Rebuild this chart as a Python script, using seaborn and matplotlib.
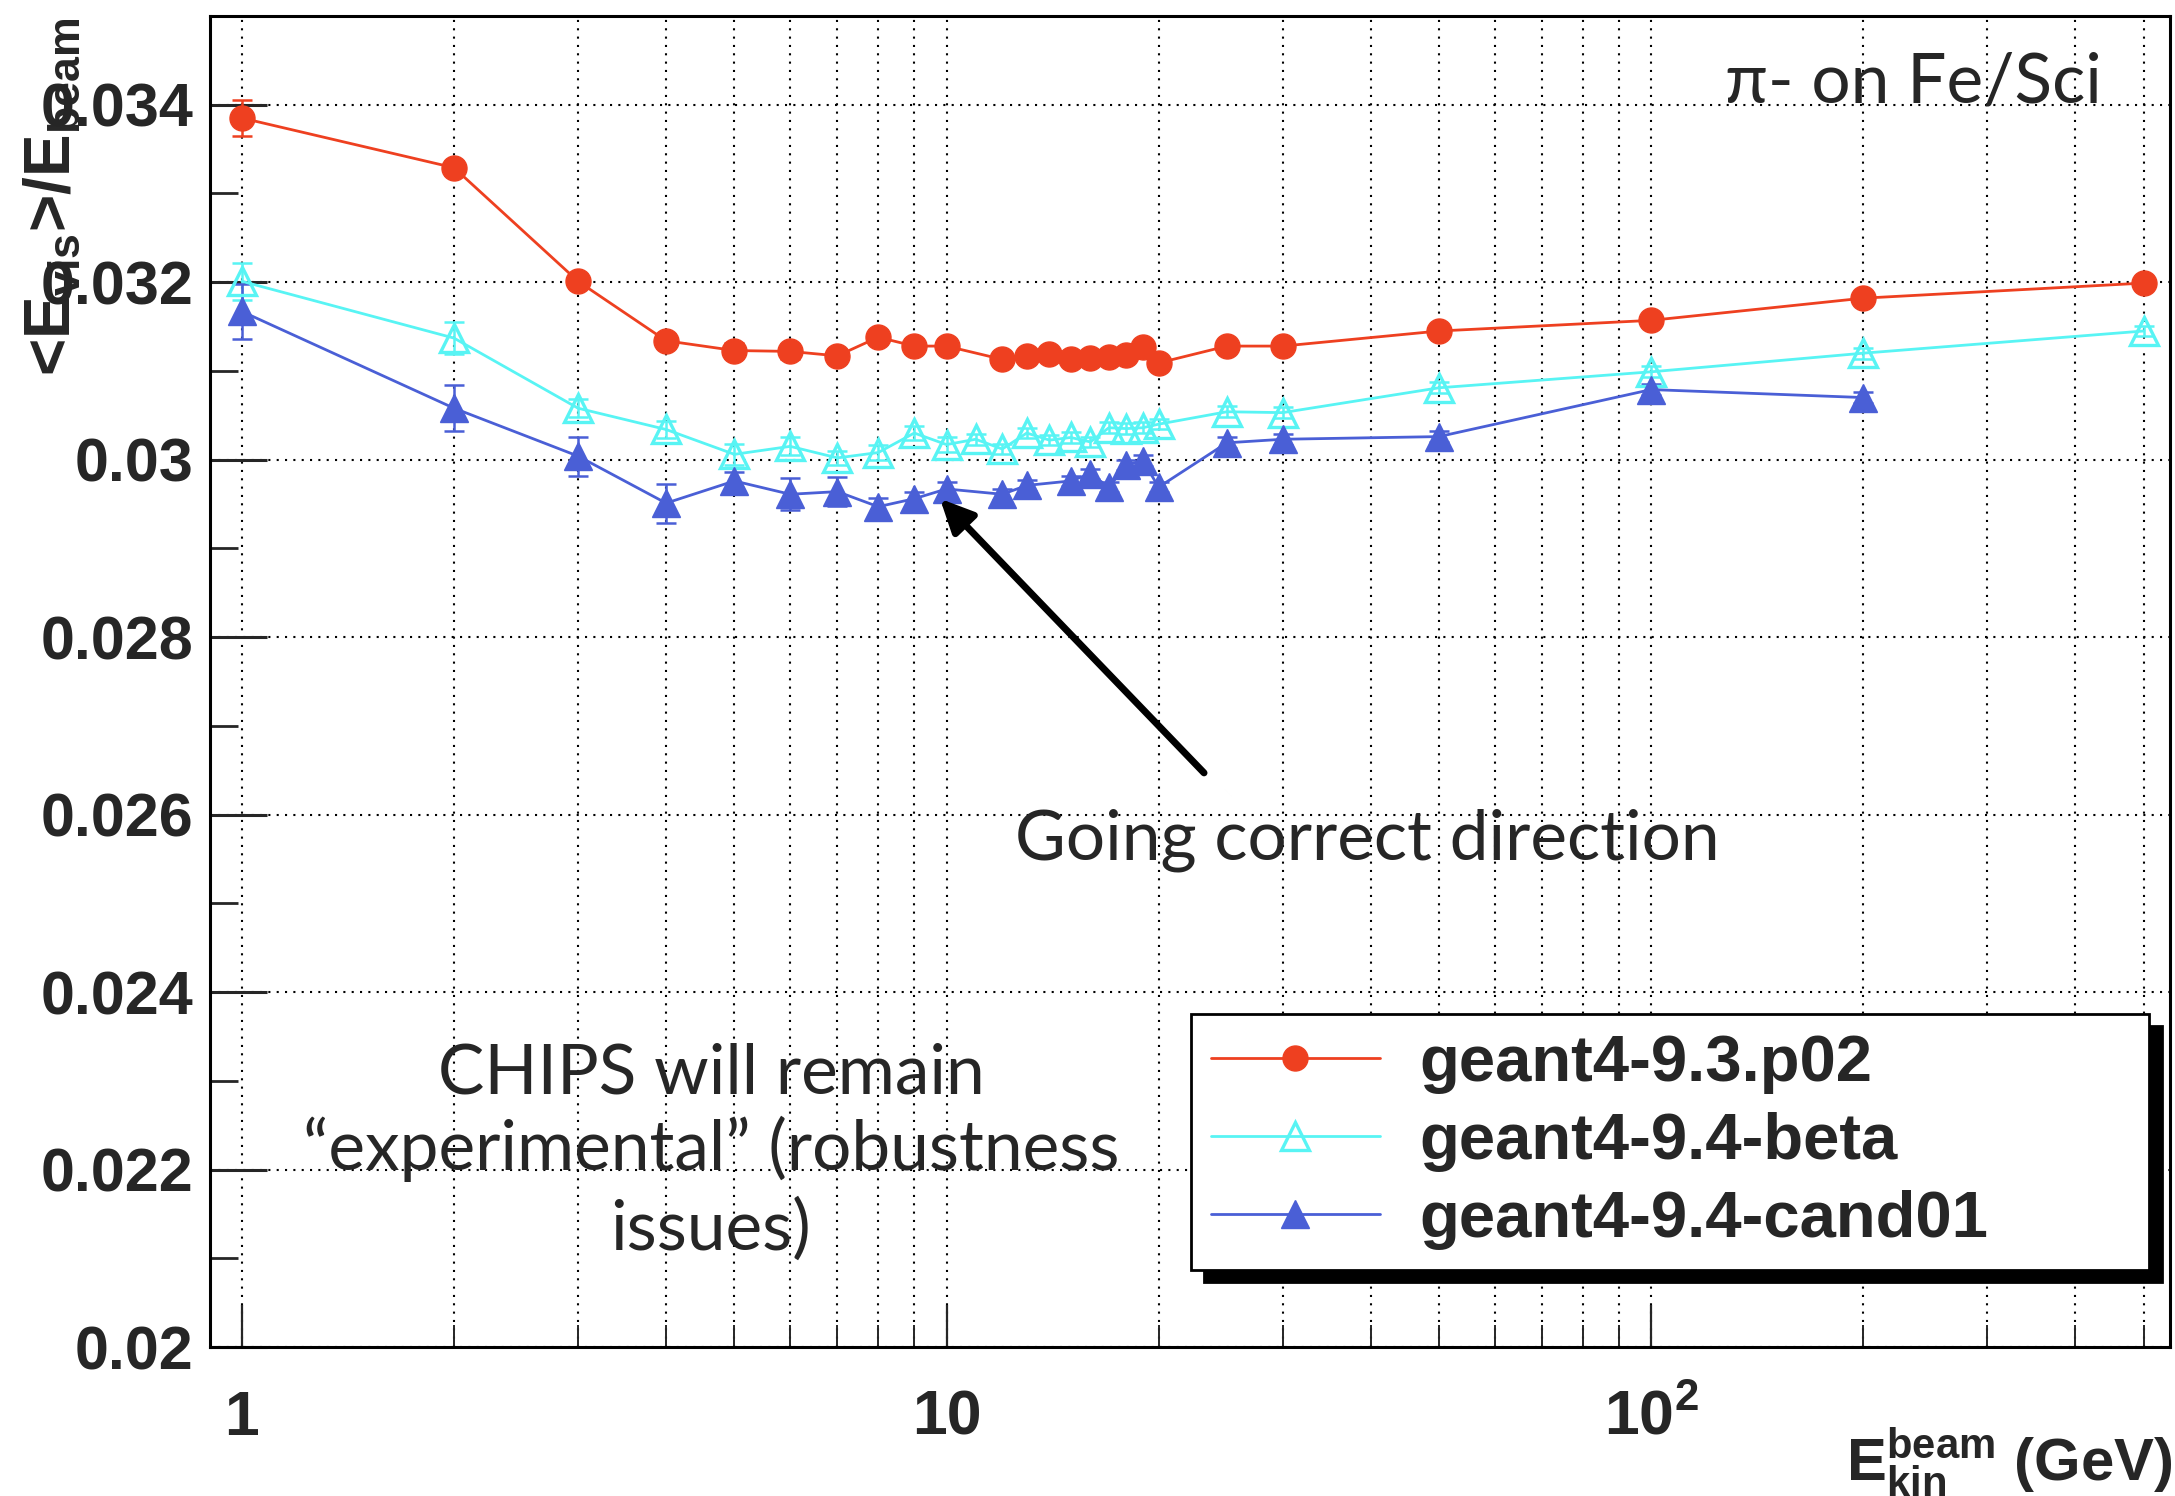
import numpy as np
import pandas as pd
import matplotlib
matplotlib.use("Agg")
import matplotlib.pyplot as plt
from matplotlib.ticker import FixedLocator, MultipleLocator, NullFormatter, LogLocator
import seaborn as sns

# ---------------- data ----------------
E_p02 = [1, 2, 3, 4, 5, 6, 7, 8, 9, 10, 12, 13, 14, 15, 16, 17, 18, 19, 20, 25, 30, 50, 100, 200, 500]
v_p02 = [0.03385, 0.03329, 0.03201, 0.03134, 0.03123, 0.03122, 0.03117, 0.03138, 0.03128, 0.03128,
         0.03113, 0.03117, 0.03119, 0.03113, 0.03115, 0.03116, 0.03118, 0.03127, 0.03109,
         0.03128, 0.03128, 0.03145, 0.03157, 0.03182, 0.03199]
e_p02 = [0.00020, 0.00008, 0.00008, 0.00008, 0.00008, 0.00008, 0.00008, 0.00008, 0.00008, 0.00008,
         0.00006, 0.00006, 0.00006, 0.00006, 0.00006, 0.00006, 0.00006, 0.00006, 0.00006,
         0.00006, 0.00006, 0.00006, 0.00006, 0.00006, 0.00006]

E_beta = [1, 2, 3, 4, 5, 6, 7, 8, 9, 10, 11, 12, 13, 14, 15, 16, 17, 18, 19, 20, 25, 30, 50, 100, 200, 500]
v_beta = [0.03201, 0.03137, 0.03058, 0.03034, 0.03006, 0.03015, 0.03002, 0.03008, 0.03030, 0.03017,
          0.03023, 0.03012, 0.03030, 0.03022, 0.03025, 0.03020, 0.03036, 0.03035, 0.03036, 0.03040,
          0.03054, 0.03053, 0.03081, 0.03099, 0.03120, 0.03145]
e_beta = [0.00021, 0.00018, 0.00010, 0.00010, 0.00012, 0.00010, 0.00008, 0.00008, 0.00008, 0.00008,
          0.00006, 0.00006, 0.00006, 0.00006, 0.00006, 0.00006, 0.00006, 0.00006, 0.00006, 0.00006,
          0.00006, 0.00006, 0.00006, 0.00006, 0.00006, 0.00006]

E_cand = [1, 2, 3, 4, 5, 6, 7, 8, 9, 10, 12, 13, 15, 16, 17, 18, 19, 20, 25, 30, 50, 100, 200]
v_cand = [0.03167, 0.03058, 0.03004, 0.02951, 0.02976, 0.02961, 0.02964, 0.02947, 0.02956, 0.02967,
          0.02961, 0.02971, 0.02976, 0.02984, 0.02969, 0.02994, 0.02999, 0.02969,
          0.03019, 0.03023, 0.03026, 0.03079, 0.03070]
e_cand = [0.00031, 0.00026, 0.00022, 0.00022, 0.00010, 0.00018, 0.00016, 0.00010, 0.00008, 0.00008,
          0.00006, 0.00006, 0.00006, 0.00006, 0.00006, 0.00006, 0.00006, 0.00006,
          0.00006, 0.00006, 0.00006, 0.00006, 0.00006]

labels = ["geant4-9.3.p02", "geant4-9.4-beta", "geant4-9.4-cand01"]
colors = ["#EE4020", "#58F4F4", "#4A5FD6"]

y_ticks = [0.02, 0.022, 0.024, 0.026, 0.028, 0.03, 0.032, 0.034]
y_ticklabels = ["0.02", "0.022", "0.024", "0.026", "0.028", "0.03", "0.032", "0.034"]
x_ticks = [1, 10, 100]
x_ticklabels = ["1", "10", r"$10^{2}$"]

# ---------------- style ----------------
sns.set_style("white")
plt.rcParams["mathtext.fontset"] = "custom"
plt.rcParams["mathtext.rm"] = "Liberation Sans:bold"
plt.rcParams["mathtext.it"] = "Liberation Sans:bold"
plt.rcParams["mathtext.bf"] = "Liberation Sans:bold"
plt.rcParams["mathtext.sf"] = "Liberation Sans:bold"
plt.rcParams["mathtext.default"] = "rm"
plt.rcParams["font.family"] = ["Liberation Sans", "DejaVu Sans"]

W, H = 2175, 1496
fig = plt.figure(figsize=(W / 100, H / 100), dpi=100)
ax = fig.add_axes([210 / W, 1 - 1347 / H, 1960 / W, 1331 / H])
ax.set_xscale("log")

series = [(E_p02, v_p02, e_p02, "o", True),
          (E_beta, v_beta, e_beta, "^", False),
          (E_cand, v_cand, e_cand, "^", True)]

handles = []
for (xs, ys, es, mk, filled), lab, col in zip(series, labels, colors):
    df = pd.DataFrame({"E": xs, "val": ys})
    ax.errorbar(xs, ys, yerr=es, fmt="none", ecolor=col, elinewidth=1.8,
                capsize=7, capthick=1.8, zorder=3)
    sns.lineplot(data=df, x="E", y="val", ax=ax, color=col, linewidth=2.0,
                 marker=mk, markersize=18 if mk == "o" else 20,
                 markerfacecolor=col if filled else "none",
                 markeredgecolor=col, markeredgewidth=2.4 if not filled else 1,
                 label=lab, legend=False, zorder=4)
    handles.append(ax.lines[-1])

ax.set_xlim(0.901, 545)
ax.set_ylim(0.02, 0.035)

# ticks
ax.xaxis.set_major_locator(FixedLocator(x_ticks))
ax.set_xticklabels(x_ticklabels)
ax.xaxis.set_minor_locator(LogLocator(base=10, subs=np.arange(2, 10)))
ax.xaxis.set_minor_formatter(NullFormatter())
ax.yaxis.set_major_locator(FixedLocator(y_ticks))
ax.set_yticklabels(y_ticklabels)
ax.yaxis.set_minor_locator(MultipleLocator(0.001))

ax.tick_params(axis="y", which="major", direction="in", length=41, width=2.2, pad=12,
               labelsize=44, left=True, right=False)
ax.tick_params(axis="y", which="minor", direction="in", length=20, width=2.0, left=True, right=False)
ax.tick_params(axis="x", which="major", direction="in", length=30, width=1.6, pad=30,
               labelsize=45, bottom=True, top=False)
ax.tick_params(axis="x", which="minor", direction="in", length=16, width=1.4, bottom=True, top=False)
for lab in ax.get_xticklabels() + ax.get_yticklabels():
    lab.set_fontweight("bold")
    lab.set_fontfamily("Liberation Sans")

for s in ax.spines.values():
    s.set_color("black")
    s.set_linewidth(2.2)

# grid
ax.set_axisbelow(True)
ax.grid(True, which="both", axis="x", color="black", linestyle=(0, (1, 3)), linewidth=1.5)
ax.grid(True, which="major", axis="y", color="black", linestyle=(0, (1, 3)), linewidth=1.5)
ax.set_xlabel("")
ax.set_ylabel("")

# axis titles
fig.text(53 / W, 1 - 17 / H, r"<E$_{vis}$>/E$_{beam}$", rotation=90, ha="center", va="top",
         fontsize=46, fontweight="bold", family="Liberation Sans")
fig.text(2172 / W, 1 - 1482 / H, r"$E_{kin}^{beam}$ (GeV)", ha="right", va="baseline",
         fontsize=43, fontweight="bold", family="Liberation Sans")

# legend
lx0, lx1, ly_top, ly_bot = 1191, 2149, 1014, 1265
leg = ax.legend(handles=handles, labels=labels, loc="upper left",
                bbox_to_anchor=((lx0 - 210) / 1960, (1347 - ly_bot) / 1331,
                                (lx1 - lx0) / 1960, (ly_bot - ly_top) / 1331),
                mode="expand", borderaxespad=0, frameon=True, fancybox=False,
                prop={"family": "Liberation Sans", "weight": "bold", "size": 47},
                handlelength=2.6, handletextpad=0.6, labelspacing=0.28, borderpad=0.3,
                numpoints=1,
                shadow={"ox": 9.5, "oy": -8.5, "color": "black", "alpha": 1.0})
leg.get_frame().set_edgecolor("black")
leg.get_frame().set_linewidth(2.0)
leg.get_frame().set_facecolor("white")
leg.get_frame().set_alpha(1.0)
leg.set_zorder(10)

# annotations (Keynote overlay)
ann_font = ["Lato", "DejaVu Sans"]
ax.text((2102 - 210) / 1960, (1347 - 102) / 1331, "π- on Fe/Sci", transform=ax.transAxes,
        ha="right", va="baseline", fontsize=50, family=ann_font)
ax.text((1367 - 210) / 1960, (1347 - 860) / 1331, "Going correct direction", transform=ax.transAxes,
        ha="center", va="baseline", fontsize=50, family=ann_font)
for txt, yb in [("CHIPS will remain", 1093), ("\u201cexperimental\u201d (robustness", 1170), ("issues)", 1250)]:
    ax.text((711 - 210) / 1960, (1347 - yb) / 1331, txt, transform=ax.transAxes,
            ha="center", va="baseline", fontsize=50, family=ann_font)

ax.annotate("", xy=(9.79, 0.02956), xytext=(23.2, 0.02647), xycoords="data", textcoords="data",
            arrowprops=dict(arrowstyle="-|>,head_length=2.0,head_width=0.95", color="black",
                            linewidth=5, shrinkA=0, shrinkB=0), zorder=6)

fig.savefig("out.png", dpi=100)
